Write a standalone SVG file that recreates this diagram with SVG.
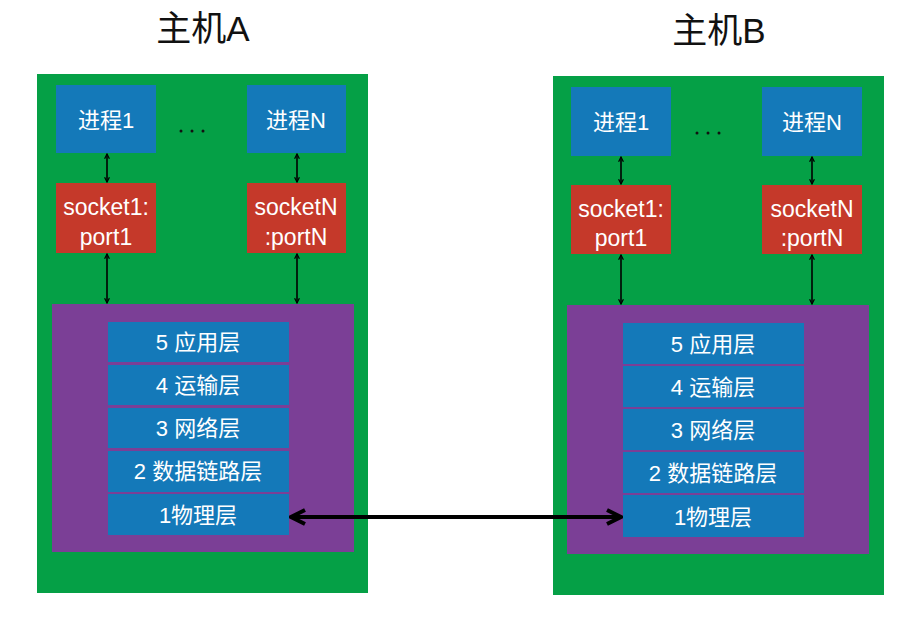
<svg xmlns="http://www.w3.org/2000/svg" width="910" height="622" viewBox="0 0 910 622">
<style>
.host{fill:#05a046}
.proc{fill:#1479b9}
.sock{fill:#c5392a}
.stack{fill:#7b3f96}
.layer{fill:#1479b9}
.t{font-family:"Liberation Sans","Noto Sans CJK SC",sans-serif;fill:#fff;font-size:22px;text-anchor:middle}
.s{font-size:23px}
.title{font-family:"Liberation Sans","Noto Sans CJK SC",sans-serif;fill:#111;font-size:35px;text-anchor:middle}
.c{stroke:#000;stroke-width:1.6;fill:none;marker-start:url(#ah);marker-end:url(#ah)}
.big{stroke:#000;stroke-width:4;fill:none;marker-start:url(#bh);marker-end:url(#bh)}
.dots{fill:#111}
</style>
<defs>
<marker id="ah" viewBox="0 0 10 10" refX="9" refY="5" markerWidth="6" markerHeight="6" markerUnits="userSpaceOnUse" orient="auto-start-reverse">
<path d="M1,1 L9,5 L1,9" fill="none" stroke="#000" stroke-width="2"/>
</marker>
<marker id="bh" viewBox="0 0 10 10" refX="9" refY="5" markerWidth="20" markerHeight="20" markerUnits="userSpaceOnUse" orient="auto-start-reverse">
<path d="M2,1.5 L9,5 L2,8.5" fill="none" stroke="#000" stroke-width="2"/>
</marker>
</defs>
<text class="title" x="203" y="41">主机A</text>
<text class="title" x="719" y="43">主机B</text>

<g id="hostA">
<rect class="host" x="37" y="74" width="331" height="519"/>
<g id="procA1"><rect class="proc" x="56" y="85" width="100" height="68"/><text class="t" x="106" y="128">进程1</text></g>
<g id="procAN"><rect class="proc" x="247" y="85" width="99" height="68"/><text class="t" x="296" y="128">进程N</text></g>
<g id="dotsA"><circle class="dots" cx="181" cy="131" r="1.5"/><circle class="dots" cx="192" cy="131" r="1.5"/><circle class="dots" cx="203" cy="131" r="1.5"/></g>
<g id="sockA1"><rect class="sock" x="56" y="183" width="100" height="70"/><text class="t s" x="106" y="215">socket1:</text><text class="t s" x="106" y="245">port1</text></g>
<g id="sockAN"><rect class="sock" x="247" y="183" width="99" height="70"/><text class="t s" x="296" y="215">socketN</text><text class="t s" x="296" y="245">:portN</text></g>
<g id="stackA">
<rect class="stack" x="52" y="304" width="302" height="248"/>
<rect class="layer" x="108" y="322" width="181" height="40"/><text class="t" x="198" y="350">5 应用层</text>
<rect class="layer" x="108" y="365" width="181" height="40"/><text class="t" x="198" y="393">4 运输层</text>
<rect class="layer" x="108" y="408" width="181" height="40"/><text class="t" x="198" y="436">3 网络层</text>
<rect class="layer" x="108" y="451" width="181" height="41"/><text class="t" x="198" y="479">2 数据链路层</text>
<rect class="layer" x="108" y="494" width="181" height="41"/><text class="t" x="198" y="523">1物理层</text>
</g>
</g>

<g id="hostB">
<rect class="host" x="553" y="76" width="331" height="519"/>
<g id="procB1"><rect class="proc" x="571" y="87" width="100" height="69"/><text class="t" x="621" y="130">进程1</text></g>
<g id="procBN"><rect class="proc" x="762" y="87" width="100" height="69"/><text class="t" x="812" y="130">进程N</text></g>
<g id="dotsB"><circle class="dots" cx="697" cy="133" r="1.5"/><circle class="dots" cx="708" cy="133" r="1.5"/><circle class="dots" cx="719" cy="133" r="1.5"/></g>
<g id="sockB1"><rect class="sock" x="571" y="185" width="100" height="69"/><text class="t s" x="621" y="217">socket1:</text><text class="t s" x="621" y="246">port1</text></g>
<g id="sockBN"><rect class="sock" x="762" y="185" width="100" height="69"/><text class="t s" x="812" y="217">socketN</text><text class="t s" x="812" y="246">:portN</text></g>
<g id="stackB">
<rect class="stack" x="567" y="305" width="302" height="249"/>
<rect class="layer" x="623" y="323" width="181" height="41"/><text class="t" x="713" y="352">5 应用层</text>
<rect class="layer" x="623" y="366" width="181" height="41"/><text class="t" x="713" y="395">4 运输层</text>
<rect class="layer" x="623" y="409" width="181" height="41"/><text class="t" x="713" y="438">3 网络层</text>
<rect class="layer" x="623" y="452" width="181" height="41"/><text class="t" x="713" y="481">2 数据链路层</text>
<rect class="layer" x="623" y="495" width="181" height="42"/><text class="t" x="713" y="525">1物理层</text>
</g>
</g>

<g id="connectors">
<line class="c" x1="107" y1="154" x2="107" y2="182"/>
<line class="c" x1="297" y1="154" x2="297" y2="182"/>
<line class="c" x1="107" y1="254" x2="107" y2="303"/>
<line class="c" x1="297" y1="254" x2="297" y2="303"/>
<line class="c" x1="621" y1="157" x2="621" y2="184"/>
<line class="c" x1="812" y1="157" x2="812" y2="184"/>
<line class="c" x1="621" y1="255" x2="621" y2="304"/>
<line class="c" x1="812" y1="255" x2="812" y2="304"/>
<line class="big" x1="291" y1="517" x2="621" y2="517"/>
</g>
</svg>
